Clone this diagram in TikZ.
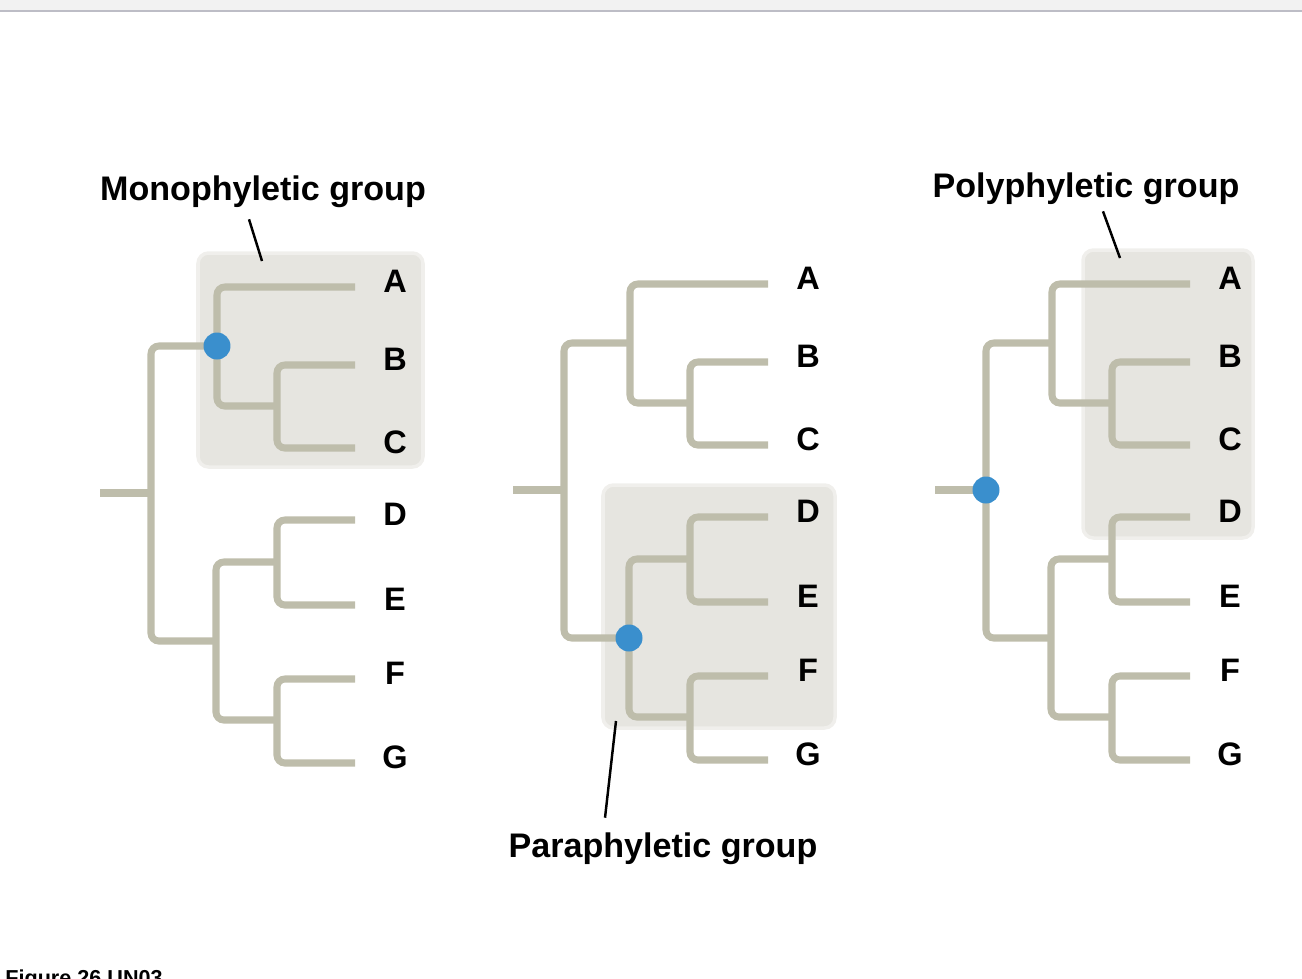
\documentclass[tikz,border=0pt]{standalone}
\usepackage{fontspec}
\setmainfont{Liberation Sans}
\usepackage{tikz}
\usetikzlibrary{positioning, calc}
\usepackage{xcolor}

\definecolor{branchgray}{HTML}{BEBDAB}
\definecolor{cladebox}{HTML}{E6E5E0}
\definecolor{nodeblue}{HTML}{3A8FCD}
\definecolor{topbar}{HTML}{F2F2F2}
\definecolor{toprule}{HTML}{BDBDC6}

\tikzset{
  branch/.style={draw=branchgray, line width=4pt, rounded corners=4.5pt},
  taxon/.style={font=\fontsize{18.5}{21}\selectfont\bfseries, inner sep=0pt},
  grouptitle/.style={font=\fontsize{19.4}{23}\selectfont\bfseries, inner sep=0pt},
  pointer/.style={line width=1.4pt, black},
  hlbox/.style={fill=cladebox, draw=cladebox!60!white, line width=2pt, rounded corners=6pt},
  bluedot/.style={circle, fill=nodeblue, inner sep=0pt, minimum size=0.54cm}
}

\begin{document}
\begin{tikzpicture}[x=0.02cm, y=-0.02cm]

    \useasboundingbox (0,0) rectangle (1302,978);

    % ==================== PAGE FRAME ====================
    \fill[topbar] (0,0) rectangle (1302,11);
    \draw[toprule, line width=1pt] (0,11) -- (1302,11);

    % ==================== HIGHLIGHT BOXES ====================
    % Monophyletic: A, B, C
    \path[hlbox] (198,253) rectangle (423,467);
    % Paraphyletic: D, E, F (G left out)
    \path[hlbox] (603,485) rectangle (835,728);
    % Polyphyletic: A to D
    \path[hlbox] (1083,250) rectangle (1253,538);

    % ==================== THE THREE TREES ====================
    \foreach \tr/\dx/\dy in {m/0/0, p/413/-3, q/835/-3} {
      \begin{scope}[shift={(\dx,\dy)}]
        % tips and taxon labels
        \foreach \lf/\yy in {A/287, B/365, C/448, D/520, E/605, F/679, G/763} {
          \coordinate (\tr\lf) at (355,\yy);
          \node[taxon] (\tr l\lf) at (395,\yy-6) {\lf};
        }
        % internal nodes
        \coordinate (\tr BC) at (277,406);
        \coordinate (\tr ABC) at (217,346);
        \coordinate (\tr DE) at (277,562);
        \coordinate (\tr FG) at (277,720);
        \coordinate (\tr DG) at (216,641);
        \coordinate (\tr R) at (151,493);
        \coordinate (\tr S) at (100,493);

        % branches
        \draw[branch] (\tr B) -| (\tr BC) |- (\tr C);
        \draw[branch] (\tr A) -| (\tr ABC) |- (\tr BC);
        \draw[branch] (\tr D) -| (\tr DE) |- (\tr E);
        \draw[branch] (\tr F) -| (\tr FG) |- (\tr G);
        \draw[branch] (\tr DE) -| (\tr DG) |- (\tr FG);
        \draw[branch] (\tr ABC) -| (\tr R) |- (\tr DG);
        \draw[branch] (\tr S) -- (\tr R);
      \end{scope}
    }

    % ==================== ANCESTOR DOTS ====================
    \node[bluedot] (monodot) at (mABC) {};
    \node[bluedot] (paradot) at (pDG) {};
    \node[bluedot] (polydot) at (qR) {};

    % ==================== GROUP LABELS ====================
    % 1. Monophyletic group, pointing into the first box
    \node[grouptitle] (monotitle) at (263,192) {Monophyletic group};
    \coordinate (monotip) at (262,261);
    \draw[pointer] ([xshift=-0.28cm, yshift=-0.22cm]monotitle.south) -- (monotip);

    % 2. Paraphyletic group, pointing up into the middle box
    \node[grouptitle] (paratitle) at (663,849) {Paraphyletic group};
    \coordinate (paratip) at (616,721);
    \draw[pointer] ([xshift=-1.16cm, yshift=0.3cm]paratitle.north) -- (paratip);

    % 3. Polyphyletic group, pointing into the right box
    \node[grouptitle] (polytitle) at (1086,189) {Polyphyletic group};
    \coordinate (polytip) at (1120,258);
    \draw[pointer] ([xshift=0.34cm, yshift=-0.12cm]polytitle.south) -- (polytip);

    % ==================== FIGURE CAPTION (cut off at the bottom) ====================
    \begin{scope}
      \clip (0,940) rectangle (1302,978);
      \node[anchor=north west, inner sep=0pt, font=\fontsize{12.3}{14}\selectfont\bfseries] (figcap) at (5,969) {Figure 26.UN03};
    \end{scope}

\end{tikzpicture}
\end{document}
